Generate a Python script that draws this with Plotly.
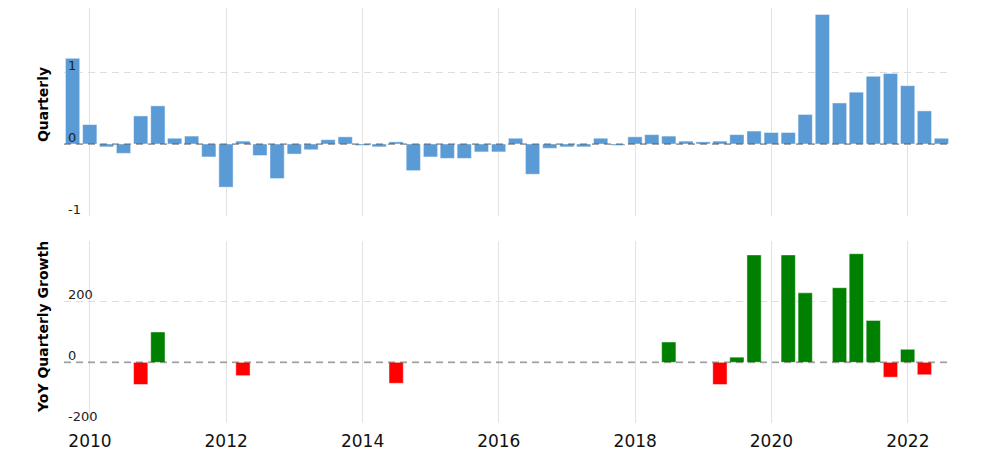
import plotly.graph_objects as go

# ---- data ----
quarters = [
    "2009-09-30", "2009-12-31",
    "2010-03-31", "2010-06-30", "2010-09-30", "2010-12-31",
    "2011-03-31", "2011-06-30", "2011-09-30", "2011-12-31",
    "2012-03-31", "2012-06-30", "2012-09-30", "2012-12-31",
    "2013-03-31", "2013-06-30", "2013-09-30", "2013-12-31",
    "2014-03-31", "2014-06-30", "2014-09-30", "2014-12-31",
    "2015-03-31", "2015-06-30", "2015-09-30", "2015-12-31",
    "2016-03-31", "2016-06-30", "2016-09-30", "2016-12-31",
    "2017-03-31", "2017-06-30", "2017-09-30", "2017-12-31",
    "2018-03-31", "2018-06-30", "2018-09-30", "2018-12-31",
    "2019-03-31", "2019-06-30", "2019-09-30", "2019-12-31",
    "2020-03-31", "2020-06-30", "2020-09-30", "2020-12-31",
    "2021-03-31", "2021-06-30", "2021-09-30", "2021-12-31",
    "2022-03-31", "2022-06-30",
]

quarterly = [
    1.19, 0.27, -0.04, -0.13, 0.39, 0.53, 0.08, 0.11, -0.18, -0.60,
    0.04, -0.16, -0.48, -0.14, -0.08, 0.06, 0.10, -0.02, -0.04, 0.03,
    -0.37, -0.18, -0.20, -0.20, -0.11, -0.11, 0.08, -0.42, -0.06, -0.04,
    -0.04, 0.08, -0.02, 0.10, 0.13, 0.11, 0.04, 0.03, 0.04, 0.13,
    0.18, 0.16, 0.16, 0.41, 1.80, 0.57, 0.72, 0.94, 0.98, 0.81,
    0.46, 0.08,
]

yoy_growth = [
    None, None, None, None, -73, 100, None, None, None, None,
    -44, None, None, None, None, None, None, None, None, -69,
    None, None, None, None, None, None, None, None, None, None,
    None, None, None, None, None, 67, None, None, -73, 17,
    354, None, 354, 229, None, 246, 358, 138, -49, 43,
    -41, None,
]

top_tickvals = [-1, 0, 1]
top_ticktext = ["-1", "0", "1"]
bot_tickvals = [-200, 0, 200, 400]
bot_ticktext = ["-200", "0", "200", ""]
top_title = "Quarterly"
bot_title = "YoY Quarterly Growth"

# ---- styles ----
BLUE = "#5b9bd5"
GREEN = "#008000"
RED = "#ff0000"
FONT = "DejaVu Sans"
GRID_H = "#dedede"
GRID_V = "#e2e2e2"
DASH = "7px,5px"

yoy_colors = [GREEN if (v is not None and v >= 0) else RED for v in yoy_growth]

fig = go.Figure()
fig.add_trace(go.Bar(
    x=quarters, y=quarterly, xaxis="x", yaxis="y",
    marker=dict(color=BLUE, line=dict(color="rgba(255,255,255,0.45)", width=1)),
    showlegend=False, hoverinfo="x+y",
))
fig.add_trace(go.Bar(
    x=quarters, y=yoy_growth, xaxis="x2", yaxis="y2",
    marker=dict(color=yoy_colors, line=dict(color="rgba(255,255,255,0.45)", width=1)),
    showlegend=False, hoverinfo="x+y",
))

xrange = ["2009-08-15", "2022-08-15"]
xcommon = dict(
    type="date", range=xrange, showgrid=True, gridcolor=GRID_V, gridwidth=1,
    dtick="M24", tick0="2010-01-01", tickformat="%Y", zeroline=False,
    showline=False, ticks="", automargin=False,
)
ycommon = dict(
    showgrid=True, gridcolor=GRID_H, gridwidth=1, griddash=DASH,
    zeroline=False, showline=False, ticks="", automargin=False,
    ticklabelposition="inside", ticklabelshift=-7, ticklabelstandoff=1,
    ticklabeloverflow="allow",
    tickfont=dict(family=FONT, size=13, color="#222"),
)
title_font = dict(family=FONT, size=14, color="#000", weight="bold")

fig.update_layout(
    width=992, height=445,
    margin=dict(l=56, r=50, t=0, b=30),
    paper_bgcolor="white", plot_bgcolor="white",
    bargap=0.15,
    xaxis=dict(xcommon, anchor="y", domain=[0, 1], showticklabels=False),
    xaxis2=dict(xcommon, anchor="y2", domain=[0, 1], matches="x",
                ticklabeloverflow="allow", ticklabelstandoff=6,
                tickfont=dict(family=FONT, size=17, color="#111")),
    yaxis=dict(ycommon, domain=[0.4988, 1], range=[-1, 1.889],
               tickvals=top_tickvals, ticktext=top_ticktext),
    yaxis2=dict(ycommon, domain=[0, 0.4386], range=[-200, 400],
                tickvals=bot_tickvals, ticktext=bot_ticktext),
    annotations=[
        dict(text=top_title, xref="paper", yref="paper", x=-0.0237, y=0.766,
             textangle=-90, showarrow=False, xanchor="center", yanchor="middle",
             font=title_font),
        dict(text=bot_title, xref="paper", yref="paper", x=-0.0237, y=0.2313,
             textangle=-90, showarrow=False, xanchor="center", yanchor="middle",
             font=title_font),
    ],
    shapes=[
        dict(type="line", xref="paper", yref="y", x0=0, x1=1, y0=0, y1=0,
             line=dict(color="rgba(0,0,0,0.28)", width=2, dash=DASH), layer="above"),
        dict(type="line", xref="paper", yref="y2", x0=0, x1=1, y0=0, y1=0,
             line=dict(color="rgba(0,0,0,0.28)", width=2, dash=DASH), layer="above"),
    ],
)

fig.write_html("out.html")
